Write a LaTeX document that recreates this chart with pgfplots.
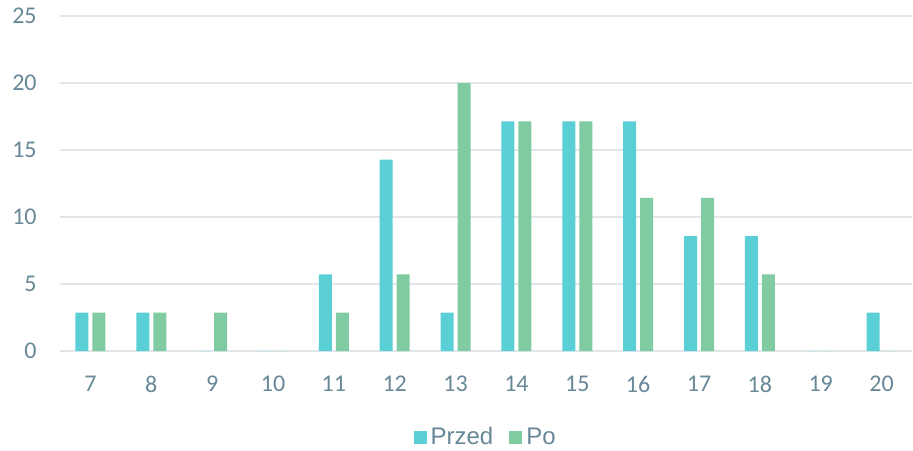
\documentclass[border=0pt]{standalone}
\usepackage{fontspec}
\setmainfont{Liberation Sans}
\newfontfamily\tickfont{Carlito}
\usepackage{pgfplots}
\pgfplotsset{compat=1.18}
\definecolor{przed}{HTML}{5BCFD6}
\definecolor{po}{HTML}{80CBA2}
\definecolor{gridc}{HTML}{E1E6EA}
\definecolor{txt}{HTML}{688898}

\begin{document}
\begin{tikzpicture}
\begin{axis}[
    ybar=3pt,
    bar width=9.75pt,
    scale only axis,
    width=639pt,
    height=251.25pt,
    xmin=6.5, xmax=20.5,
    ymin=0, ymax=25,
    xtick={7,...,20},
    ytick={0,5,...,25},
    axis x line*=bottom,
    axis y line*=left,
    y axis line style={draw=none},
    x axis line style={draw=gridc, line width=1.1pt},
    ymajorgrids=true,
    grid style={draw=gridc, line width=1.1pt},
    major tick length=0pt,
    /pgf/number format/assume math mode=true,
    ticklabel style={font=\tickfont\fontsize{18}{20}\selectfont, text=txt},
    xticklabel shift=15.5pt,
    yticklabel shift=14pt,
    legend style={at={(0.5,-0.257)}, anchor=center, draw=none, legend columns=2,
        inner sep=0pt,
        font=\fontsize{18}{20}\selectfont, text=txt,
        /tikz/every odd column/.append style={column sep=1pt},
        /tikz/every even column/.append style={column sep=10pt}},
    legend image code/.code={\fill[#1] (0pt,-4.9pt) rectangle (9.75pt,4.9pt);},
]
\addplot[fill=przed, draw=none] coordinates {
    (7,2.86) (8,2.86) (9,0) (10,0) (11,5.71) (12,14.29) (13,2.86)
    (14,17.14) (15,17.14) (16,17.14) (17,8.57) (18,8.57) (19,0) (20,2.86)
};
\addplot[fill=po, draw=none] coordinates {
    (7,2.86) (8,2.86) (9,2.86) (10,0) (11,2.86) (12,5.71) (13,20)
    (14,17.14) (15,17.14) (16,11.43) (17,11.43) (18,5.71) (19,0) (20,0)
};
\legend{Przed, Po}
\end{axis}
\pgfresetboundingbox
\useasboundingbox ([xshift=-45pt,yshift=-74.25pt]current axis.south west) rectangle ([xshift=0.75pt,yshift=12pt]current axis.north east);
\end{tikzpicture}
\end{document}
